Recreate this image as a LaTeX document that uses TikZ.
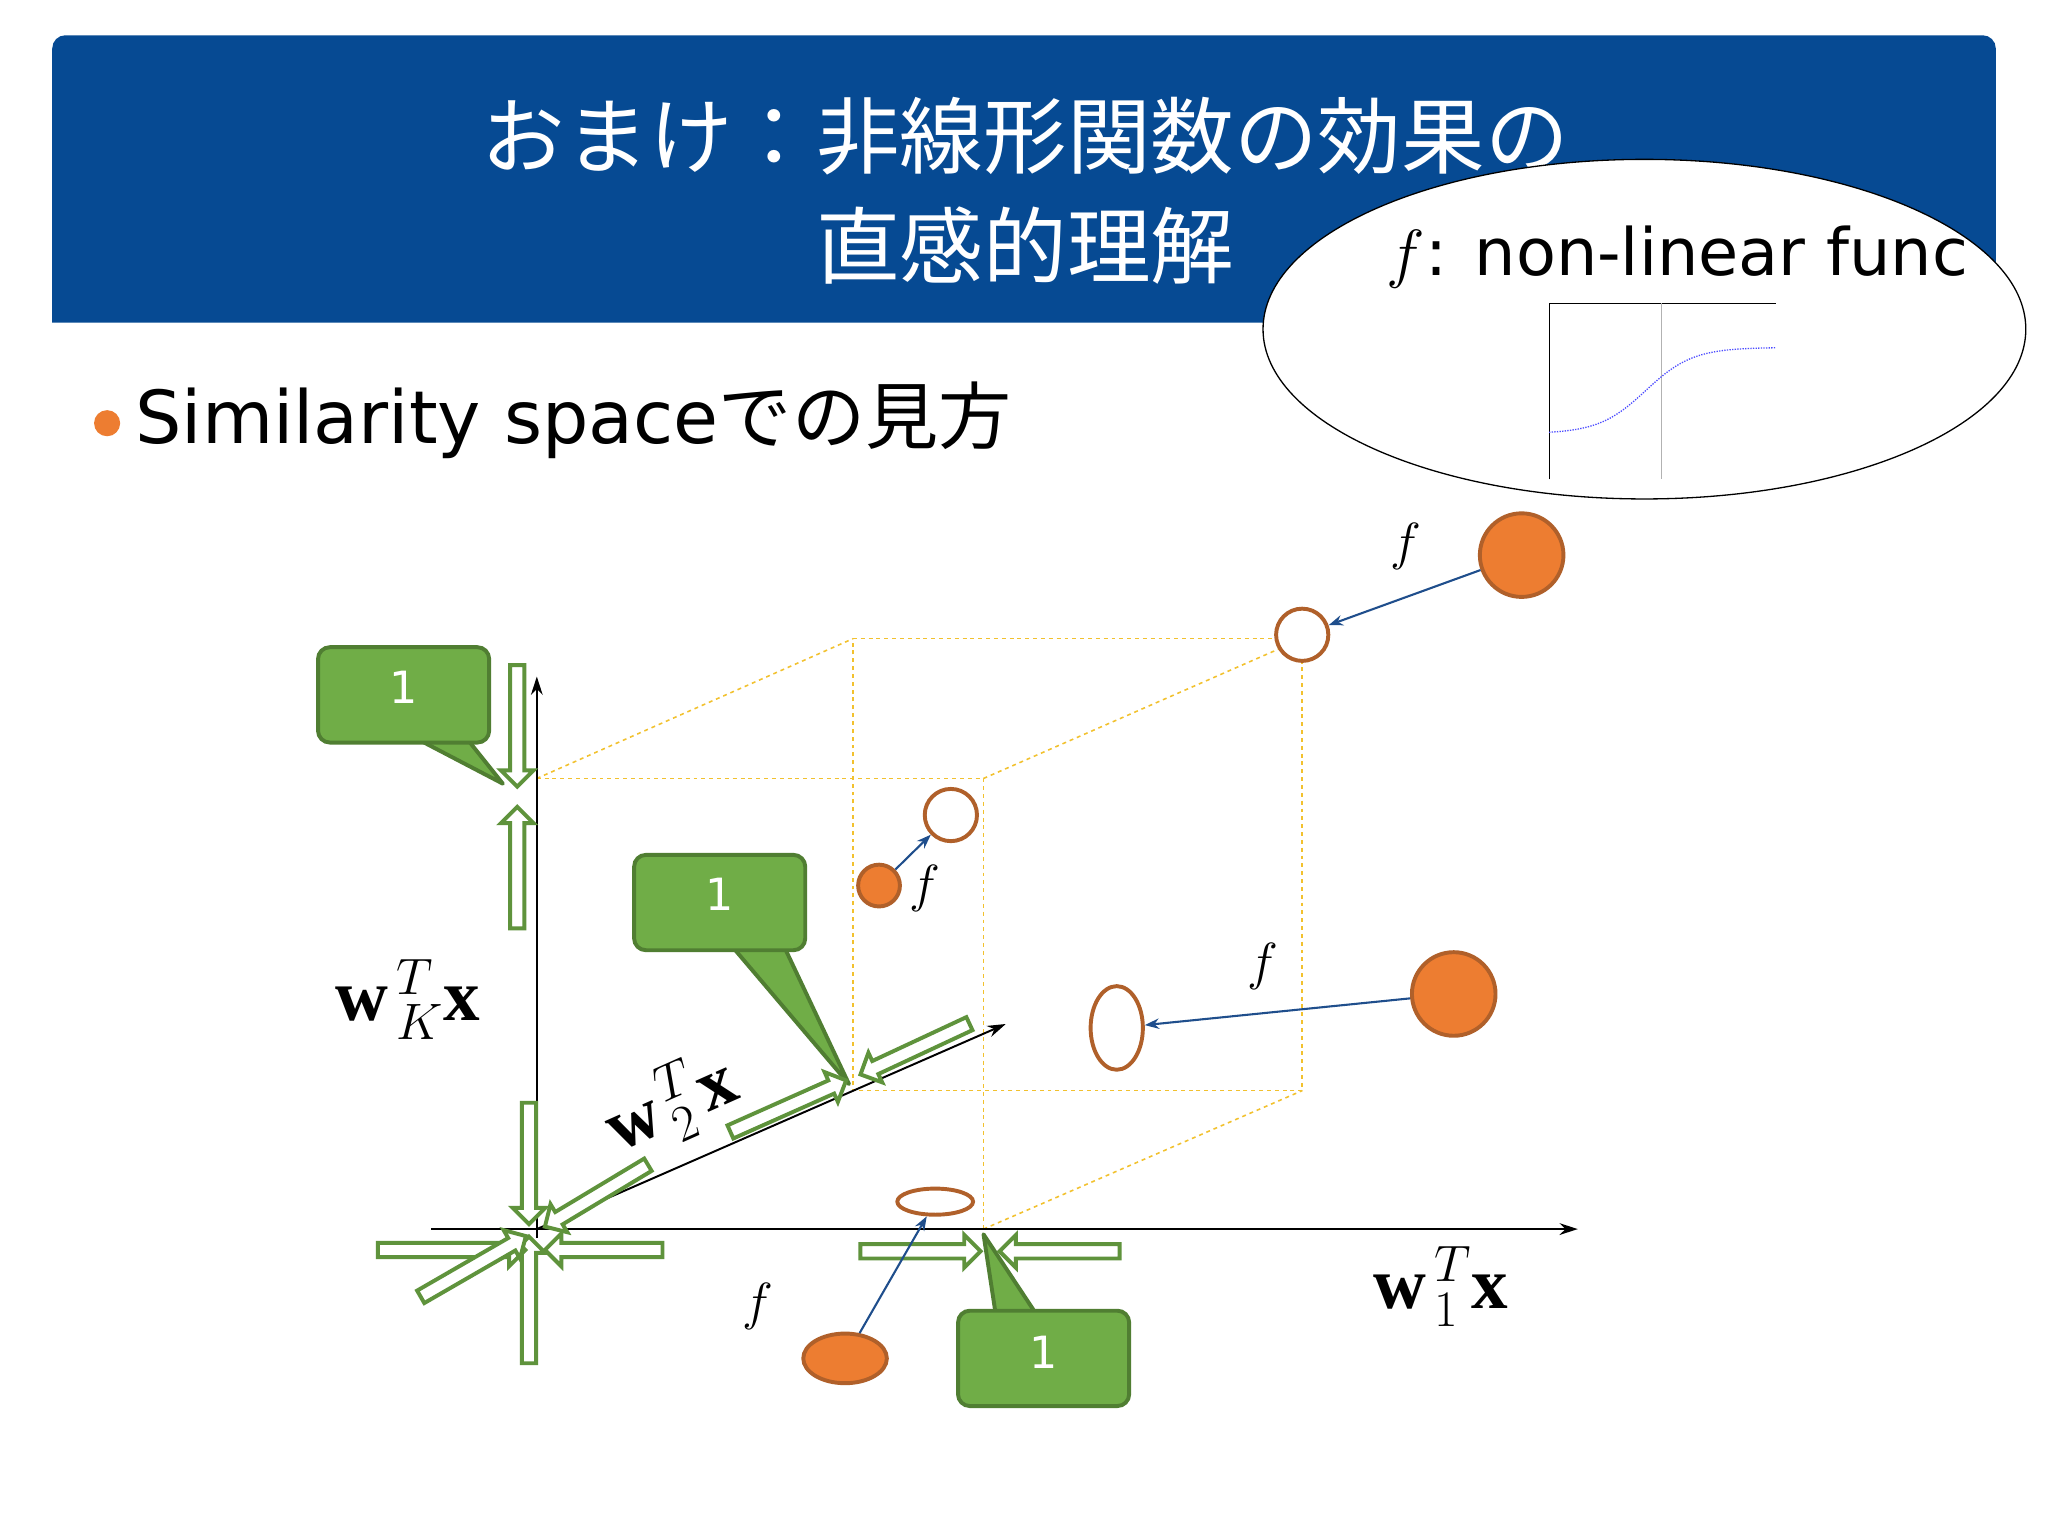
\RequirePackage{fix-cm}
\documentclass[tikz,border=0pt]{standalone}
\usepackage{fontspec}
\setmainfont{DejaVu Sans}
\newfontfamily\jp{Noto Sans CJK JP}
\newfontfamily\tnr{Liberation Serif}
\usetikzlibrary{shapes.arrows,shapes.geometric,arrows.meta}
\definecolor{banner}{HTML}{064A93}
\definecolor{gfill}{HTML}{70AD47}
\definecolor{gline}{HTML}{507E32}
\definecolor{ofill}{HTML}{ED7D31}
\definecolor{oline}{HTML}{B0602A}
\definecolor{darr}{HTML}{1F4E8C}
\definecolor{cube}{HTML}{F2C12E}
\newcommand{\bw}{\mbox{\tnr\bfseries w}}
\newcommand{\bx}{\mbox{\tnr\bfseries x}}
\tikzset{
 harrow/.style={single arrow, draw=gfill!85!black, fill=white, line width=3pt, inner xsep=0pt, inner ysep=4pt, single arrow head extend=7pt, single arrow head indent=0pt},
 callout/.style={draw=gline, fill=gfill, line width=3pt, rounded corners=9pt, minimum width=131pt, minimum height=73pt, anchor=north west, text=white, font=\fontsize{34}{36}\selectfont},
 tail/.style={draw=gline, fill=gfill, line width=3pt, line join=round},
 dsh/.style={draw=cube, dashed, line width=1.2pt},
 filled/.style={fill=ofill, draw=oline, line width=3pt},
 hollow/.style={fill=white, draw=oline, line width=3pt},
 farr/.style={draw=darr, line width=1.6pt, -{Stealth[length=11pt,width=8pt]}},
 axis/.style={line width=1.5pt, -{Stealth[length=14pt,width=9pt]}},
 flab/.style={font=\fontsize{40}{40}\selectfont},
 wlab/.style={font=\fontsize{56}{56}\selectfont},
}
\begin{document}
\begin{tikzpicture}[x=1pt,y=-1pt]
\useasboundingbox (0,0) rectangle (1568,1176);
\fill[white] (0,0) rectangle (1568,1176);
% banner
\fill[banner, rounded corners=10pt] (40,247) -- (40,27) -- (1528,27) -- (1528,247) [sharp corners]-- cycle;
\node[text=white, font=\jp\fontsize{64}{84}\selectfont, align=center] (title) at (785,146) {おまけ：非線形関数の効果の\\直感的理解};
% ellipse inset
\node[ellipse, draw=black, fill=white, line width=1pt, minimum width=584pt, minimum height=260pt] (ell) at (1259,252) {};
\node[anchor=west, font=\fontsize{50}{50}\selectfont] (ftitle) at (1058,197) {$f$: non-linear func};
\draw[line width=0.8pt] (1186,367) -- (1186,232) -- (1360,232);
\draw[gray!60, line width=1pt] (1272,232) -- (1272,367);
\draw[blue!70, line width=1pt, densely dotted] plot[domain=1186:1360, samples=60] (\x, {332 - 66/(1+exp(-(\x-1260)/18))});
% bullet
\fill[ofill] (82,324) circle (10);
\node[anchor=west, font=\fontsize{56}{56}\selectfont] (bul) at (100,322) {Similarity space{\jp での見方}};
% cube
\draw[dsh] (411,596) -- (753,596) -- (753,941);
\draw[dsh] (653,489) -- (997,489) -- (997,835) -- (653,835) -- cycle;
\draw[dsh] (411,596) -- (653,489);
\draw[dsh] (753,596) -- (997,489);
\draw[dsh] (753,941) -- (997,835);
% axes
\coordinate (o) at (411,941);
\coordinate (xe) at (1208,941);
\coordinate (xs) at (330,941);
\coordinate (ye) at (411,518);
\coordinate (ys) at (411,948);
\coordinate (ze) at (770,784);
\draw[axis] (xs) -- (xe);
\draw[axis] (ys) -- (ye);
\draw[axis] (o) -- (ze);
\node[wlab] (lk) at (312,765) {$\bw^{\,T}_{\,K}\bx$};
\node[wlab] (l1) at (1103,985) {$\bw^{\,T}_{\,1}\bx$};
\node[wlab, rotate=24] (l2) at (514,846) {$\bw^{\,T}_{\,2}\bx$};
% callouts
\draw[tail] (318,565) -- (357,565) -- (385,600) -- cycle;
\node[callout] (c1) at (242,494) {\raisebox{12pt}{1}};
\draw[tail] (560,724) -- (600,724) -- (650,830) -- cycle;
\node[callout] (c2) at (484,653) {\raisebox{12pt}{1}};
\draw[tail] (762,1004) -- (792,1004) -- (753,945) -- cycle;
\node[callout] (c3) at (732,1002) {\raisebox{10pt}{1}};
% hollow arrows
\node[harrow, minimum height=93pt, rotate=-90] (a1) at (396,553) {};
\node[harrow, minimum height=93pt, rotate=90] (a2) at (396,667) {};
\node[harrow, minimum height=93pt, rotate=-90] (a3) at (405,888) {};
\node[harrow, minimum height=97pt, rotate=90] (a4) at (405,998) {};
\node[harrow, minimum height=113pt, rotate=0] (a5) at (343,957) {};
\node[harrow, minimum height=90pt, rotate=180] (a6) at (465,957) {};
\node[harrow, minimum height=93pt, rotate=30] (a7) at (360,971) {};
\node[harrow, minimum height=92pt, rotate=-149] (a8) at (459,914) {};
\node[harrow, minimum height=97pt, rotate=24] (a9) at (601,848) {};
\node[harrow, minimum height=92pt, rotate=205] (a10) at (703,802) {};
\node[harrow, minimum height=92pt, rotate=0] (a11) at (702,958) {};
\node[harrow, minimum height=92pt, rotate=180] (a12) at (814,958) {};
% points
\node[circle, filled, minimum size=64pt, inner sep=0] (p1) at (1165,425) {};
\node[circle, hollow, minimum size=40pt, inner sep=0] (q1) at (997,486) {};
\draw[farr] (p1) -- (q1);
\node[flab] (f1) at (1076,418) {$f$};
\node[circle, filled, minimum size=32pt, inner sep=0] (p2) at (673,678) {};
\node[circle, hollow, minimum size=40pt, inner sep=0] (q2) at (728,624) {};
\draw[farr] (p2) -- (q2);
\node[flab] (f2) at (708,680) {$f$};
\node[circle, filled, minimum size=64pt, inner sep=0] (p3) at (1113,761) {};
\node[ellipse, hollow, minimum width=40pt, minimum height=64pt, inner sep=0] (q3) at (855,787) {};
\draw[farr] (p3) -- (q3);
\node[flab] (f3) at (967,740) {$f$};
\node[ellipse, filled, minimum width=64pt, minimum height=38pt, inner sep=0] (p4) at (647,1040) {};
\node[ellipse, hollow, minimum width=58pt, minimum height=20pt, inner sep=0] (q4) at (716,920) {};
\draw[farr] (p4) -- (q4);
\node[flab] (f4) at (580,1000) {$f$};
\end{tikzpicture}
\end{document}
